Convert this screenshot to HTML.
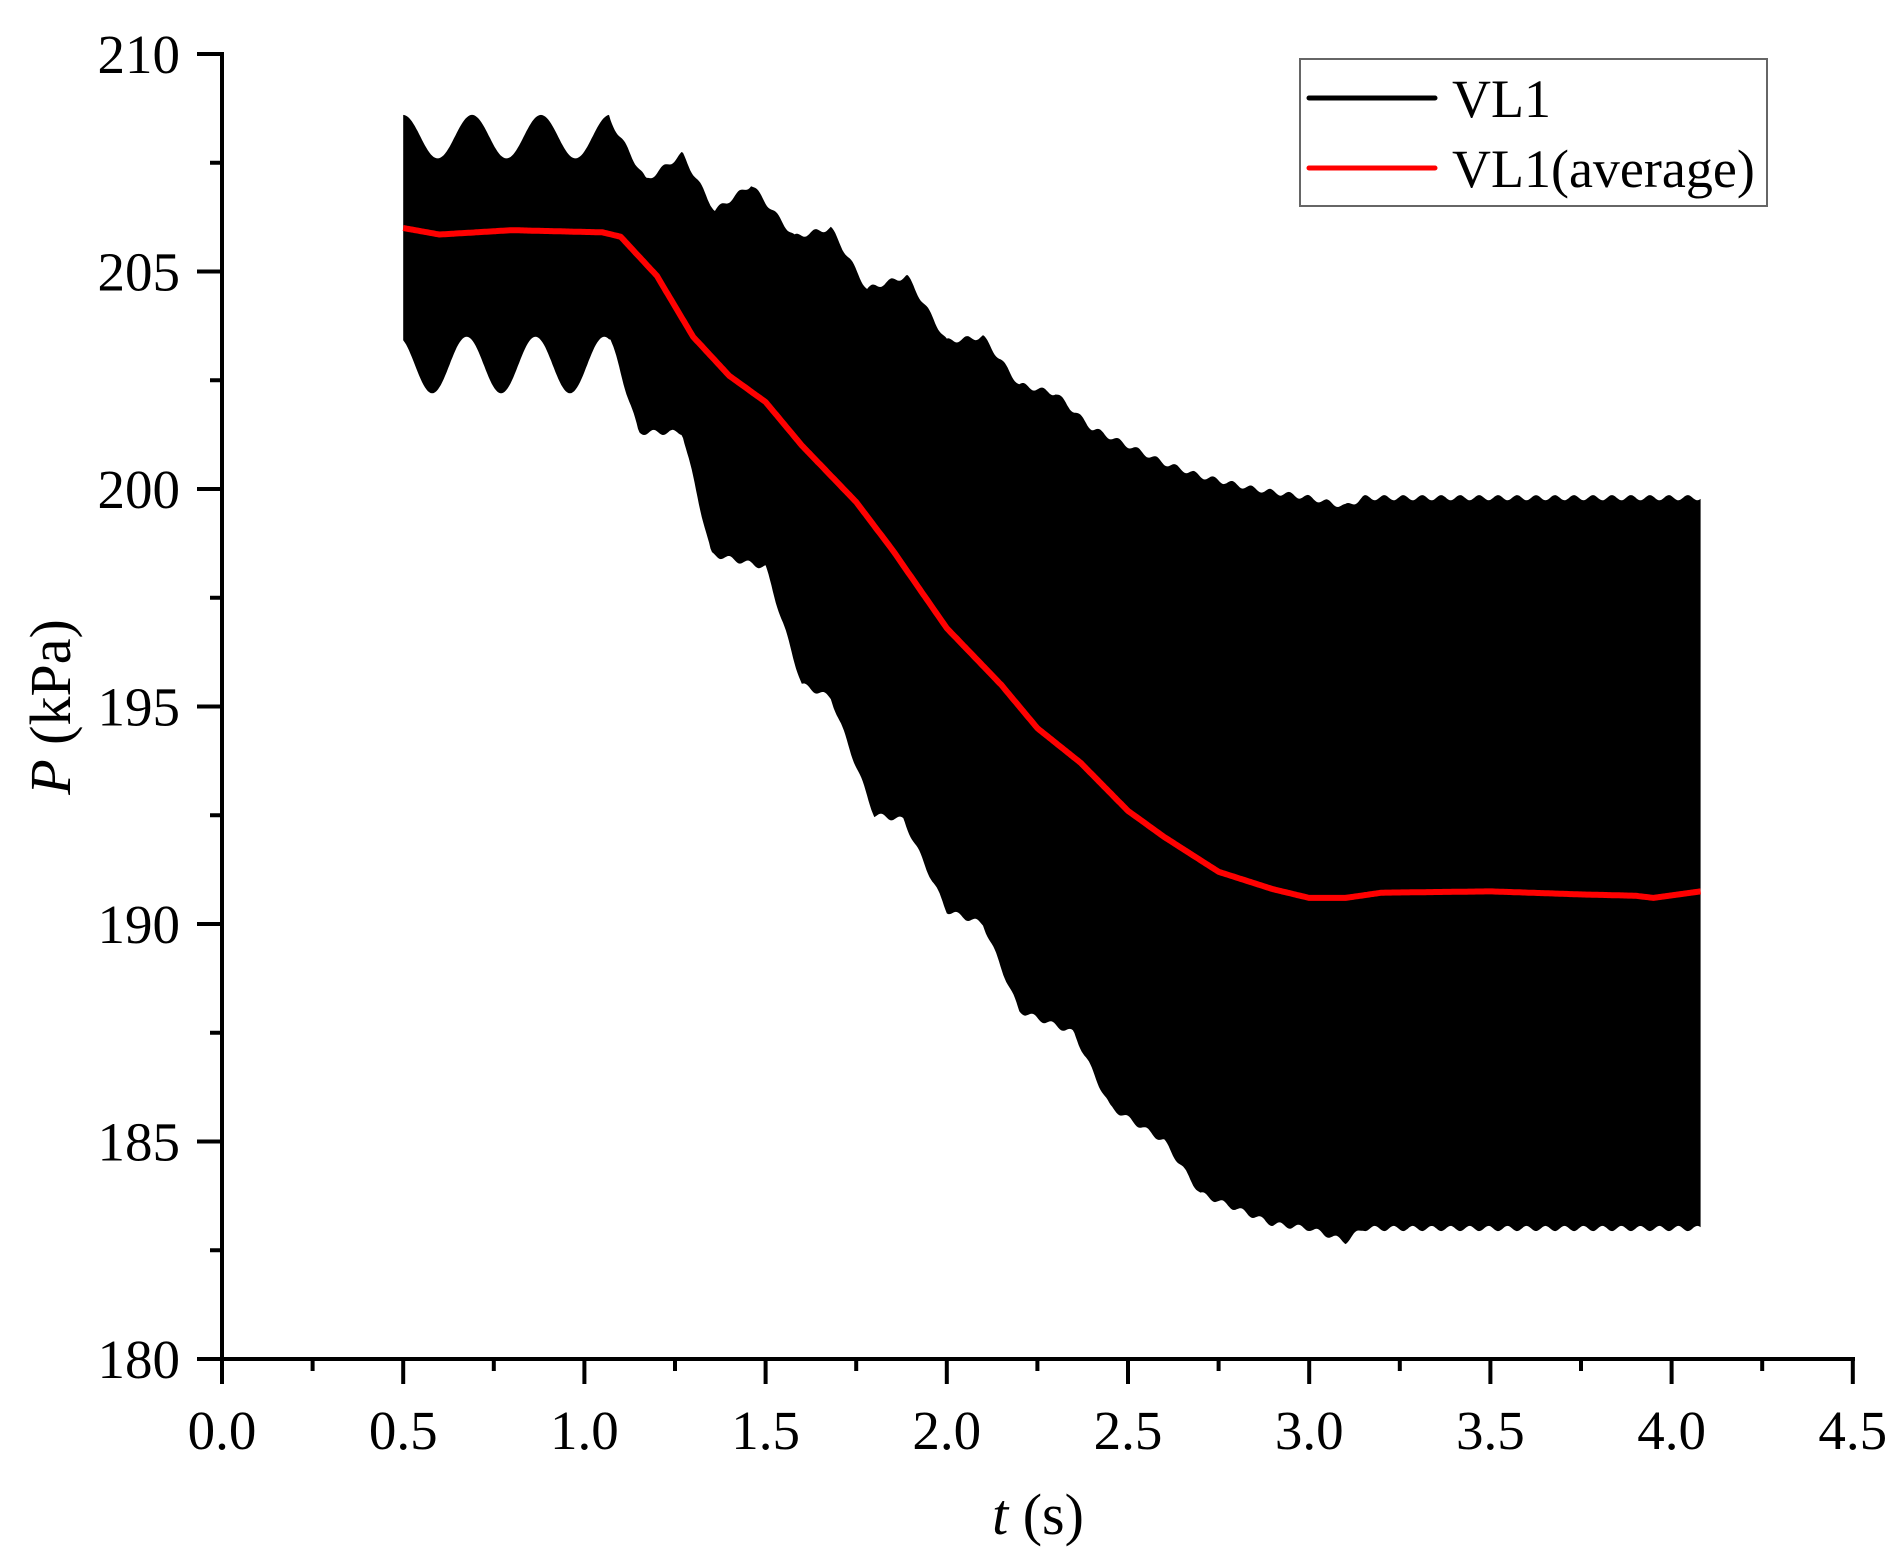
<!DOCTYPE html>
<html><head><meta charset="utf-8"><style>
html,body{margin:0;padding:0;background:#fff;}
svg{display:block;}
text{font-family:"Liberation Serif",serif;fill:#000;}
</style></head><body>
<svg id="s" width="1904" height="1565" viewBox="0 0 1904 1565" xmlns="http://www.w3.org/2000/svg">
<g id="data"></g>
<line x1="222" y1="52" x2="222" y2="1362" stroke="#000" stroke-width="4"/>
<line x1="220" y1="1359" x2="1855" y2="1359" stroke="#000" stroke-width="4"/>
<g id="ticks" stroke="#000" stroke-width="4"></g>
<g id="labels" font-size="55"></g>
<text x="1038" y="1534" font-size="58" text-anchor="middle"><tspan font-style="italic">t</tspan> (s)</text>
<text transform="translate(70,707) rotate(-90)" font-size="58" text-anchor="middle"><tspan font-style="italic">P</tspan> (kPa)</text>
<rect x="1300" y="59" width="467" height="147" fill="#fff" stroke="#666" stroke-width="2"/>
<line x1="1309" y1="98" x2="1435" y2="98" stroke="#000" stroke-width="5" stroke-linecap="round"/>
<line x1="1309" y1="168" x2="1435" y2="168" stroke="#f00" stroke-width="5" stroke-linecap="round"/>
<text x="1452" y="117" font-size="54">VL1</text>
<text x="1452" y="187" font-size="54">VL1(average)</text>
</svg>
<script>
var NS="http://www.w3.org/2000/svg";
function X(t){return 222+t*362.4;}
function Y(p){return 54+(210-p)*43.5;}
function interp(pts,t){for(var i=0;i<pts.length-1;i++){if(t<=pts[i+1][0]){var a=pts[i],b=pts[i+1];var f=(t-a[0])/(b[0]-a[0]);f=f*f*(3-2*f);return a[1]+f*(b[1]-a[1]);}}return pts[pts.length-1][1];}
function lin(pts,t){for(var i=0;i<pts.length-1;i++){if(t<=pts[i+1][0]){var a=pts[i],b=pts[i+1];var f=(t-a[0])/(b[0]-a[0]);return a[1]+f*(b[1]-a[1]);}}return pts[pts.length-1][1];}
var up=[[1.07,208.5],[1.17,207.1],[1.27,207.7],[1.36,206.4],[1.46,207.0],[1.58,205.8],[1.68,206.0],[1.78,204.6],[1.89,204.9],[2.0,203.4],[2.1,203.5],[2.2,202.4],[2.3,202.2],[2.4,201.4],[2.5,201.0],[2.6,200.6],[2.7,200.3],[2.85,200.0],[3.0,199.8],[3.1,199.6],[3.15,199.8],[4.08,199.8]];
var lo=[[1.07,203.5],[1.15,201.3],[1.27,201.3],[1.35,198.5],[1.5,198.2],[1.6,195.5],[1.68,195.2],[1.8,192.5],[1.88,192.4],[2.0,190.3],[2.1,190.0],[2.2,188.0],[2.35,187.5],[2.45,185.8],[2.6,185.0],[2.7,183.8],[2.9,183.1],[3.0,183.0],[3.1,182.7],[3.15,183.0],[4.08,183.0]];
var U=[],L=[];
for(var t=0.5;t<=4.08;t+=0.004){
 var u,l;
 if(t<1.07){u=208.1+0.5*Math.cos(2*Math.PI*(t-0.5)/0.19);l=202.85-0.65*Math.cos(2*Math.PI*(t-0.58)/0.19);}
 else{u=lin(up,t)+0.06*Math.sin(t*120);l=lin(lo,t)-0.06*Math.sin(t*120);}
 U.push(X(t).toFixed(1)+","+Y(u).toFixed(1));L.push(X(t).toFixed(1)+","+Y(l).toFixed(1));
}
var d="M"+X(0.5)+","+Y(206.6)+" L"+U.join(" L")+" L"+X(4.08)+","+Y(183.0)+" L"+L.reverse().join(" L")+" L"+X(0.5)+","+Y(203.5)+"Z";
var g=document.getElementById("data");
var p=document.createElementNS(NS,"path");p.setAttribute("d",d);p.setAttribute("fill","#000");g.appendChild(p);
var av=[[0.5,206.0],[0.6,205.85],[0.8,205.95],[1.05,205.9],[1.1,205.8],[1.2,204.9],[1.3,203.5],[1.4,202.6],[1.5,202.0],[1.6,201.0],[1.75,199.7],[1.85,198.6],[2.0,196.8],[2.15,195.5],[2.25,194.5],[2.37,193.7],[2.5,192.6],[2.6,192.0],[2.75,191.2],[2.9,190.8],[3.0,190.6],[3.1,190.6],[3.2,190.72],[3.5,190.75],[3.75,190.68],[3.9,190.65],[3.95,190.6],[4.08,190.75]];
var q=[];for(var t=0.5;t<=4.08;t+=0.005){q.push(X(t).toFixed(1)+","+Y(lin(av,t)).toFixed(1));}
var r=document.createElementNS(NS,"polyline");r.setAttribute("points",q.join(" "));r.setAttribute("fill","none");r.setAttribute("stroke","#f00");r.setAttribute("stroke-width","6");r.setAttribute("stroke-linejoin","round");g.appendChild(r);
var tk=document.getElementById("ticks"),lb=document.getElementById("labels");
function line(a,b,c,e){var l=document.createElementNS(NS,"line");l.setAttribute("x1",a);l.setAttribute("y1",b);l.setAttribute("x2",c);l.setAttribute("y2",e);tk.appendChild(l);}
function txt(x,y,s,anc){var e=document.createElementNS(NS,"text");e.setAttribute("x",x);e.setAttribute("y",y);e.setAttribute("text-anchor",anc);e.textContent=s;lb.appendChild(e);}
for(var i=0;i<=18;i++){var x=X(i*0.25);if(i%2==0){line(x,1359,x,1384);txt(x,1449,(i*0.25).toFixed(1),"middle");}else line(x,1359,x,1371);}
for(var i=0;i<=12;i++){var p2=180+i*2.5;var y=Y(p2);if(i%2==0){line(197,y,222,y);txt(180,y+19,String(p2),"end");}else line(210,y,222,y);}
</script>
</body></html>
